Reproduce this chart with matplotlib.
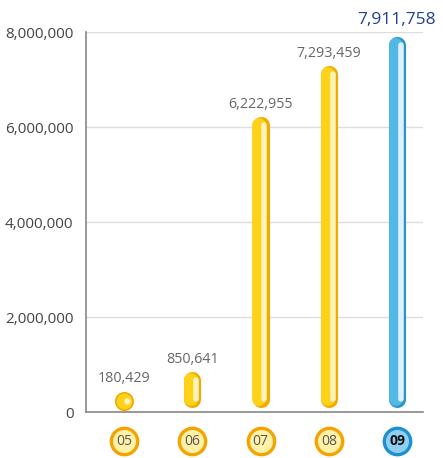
import matplotlib
matplotlib.use("Agg")
import matplotlib.pyplot as plt
from matplotlib.ticker import FuncFormatter
import matplotlib.transforms as mtransforms

#############################################
# DATOS
#############################################

years = ["05", "06", "07", "08", "09"]
values = [180429, 850641, 6222955, 7293459, 7911758]
highlight = "09"

#############################################
# ESTILOS
#############################################

yellow = {"edge": "#F2A900", "body": "#FFD21A", "shine": "#FFF4B8"}
blue = {"edge": "#2B94CC", "body": "#52B8E4", "shine": "#DDF1FB"}

plt.rcParams["font.family"] = ["Open Sans", "DejaVu Sans"]

fig = plt.figure(figsize=(4.43, 4.58), dpi=100)
ax = fig.add_axes([0.194, 0.1004, 0.761, 0.8296])

xs = list(range(len(years)))
ax.set_xlim(-0.557, 4.381)
ax.set_ylim(0, 8000000)

# convertir pixeles a unidades de datos (eje y)
px_to_val = 8000000 / 380.0
radius = 8.5 * px_to_val
base = 5 * px_to_val + radius

for x, year, val in zip(xs, years, values):
    c = blue if year == highlight else yellow
    top = val - radius
    if top > base:
        ax.plot([x, x], [base, top], color=c["edge"], lw=12.3,
                solid_capstyle="round", zorder=3)
        ax.plot([x - 0.015, x - 0.015], [base, top], color=c["body"], lw=10,
                solid_capstyle="round", zorder=4)
        ax.plot([x + 0.055, x + 0.055], [base, top], color=c["shine"], lw=4,
                solid_capstyle="round", zorder=5)
    else:
        # barra muy corta: solo una pastilla
        mid = 11 * px_to_val
        ax.plot([x], [mid], marker="o", ms=12.5, mfc=c["body"], mec=c["edge"],
                mew=1.2, zorder=4)
        ax.plot([x + 0.05], [mid], marker="o", ms=4.5, color=c["shine"],
                mec="none", zorder=5)

    if year == highlight:
        ax.annotate(f"{val:,}", (x, val), xytext=(0, 6), textcoords="offset points",
                    ha="center", va="bottom", fontsize=12.5, color="#1F3F8F")
    else:
        ax.annotate(f"{val:,}", (x, max(val, 22 * px_to_val)), xytext=(0, 3),
                    textcoords="offset points",
                    ha="center", va="bottom", fontsize=10.3, color="#666666")

# circulos con los años bajo el eje
trans = mtransforms.blended_transform_factory(ax.transData, ax.transAxes)
for x, year in zip(xs, years):
    if year == highlight:
        ax.plot([x], [-0.0763], marker="o", ms=19, mfc="#8FD0F0", mec="#1E8FD0",
                mew=2.4, transform=trans, clip_on=False, zorder=6)
        ax.text(x, -0.0763, year, transform=trans, ha="center", va="center",
                fontsize=10, fontweight="bold", color="#111111", zorder=7)
    else:
        ax.plot([x], [-0.0763], marker="o", ms=19, mfc="#FFF1A8", mec="#F4A300",
                mew=2.4, transform=trans, clip_on=False, zorder=6)
        ax.text(x, -0.0763, year, transform=trans, ha="center", va="center",
                fontsize=10, color="#555555", zorder=7)

#############################################
# EJES Y CUADRICULA
#############################################

ax.set_yticks([0, 2000000, 4000000, 6000000, 8000000])
ax.yaxis.set_major_formatter(FuncFormatter(lambda v, p: f"{int(v):,}"))
ax.set_xticks([])
ax.tick_params(axis="y", length=0, pad=9, labelsize=11, labelcolor="#444444")
ax.grid(axis="y", color="#DDDDDD", lw=1)
ax.set_axisbelow(True)
for side in ["top", "right"]:
    ax.spines[side].set_visible(False)
ax.spines["left"].set_color("#888888")
ax.spines["bottom"].set_color("#888888")
ax.spines["left"].set_linewidth(1.2)
ax.spines["bottom"].set_linewidth(1.2)

plt.savefig("out.png", dpi=100)
plt.close()
